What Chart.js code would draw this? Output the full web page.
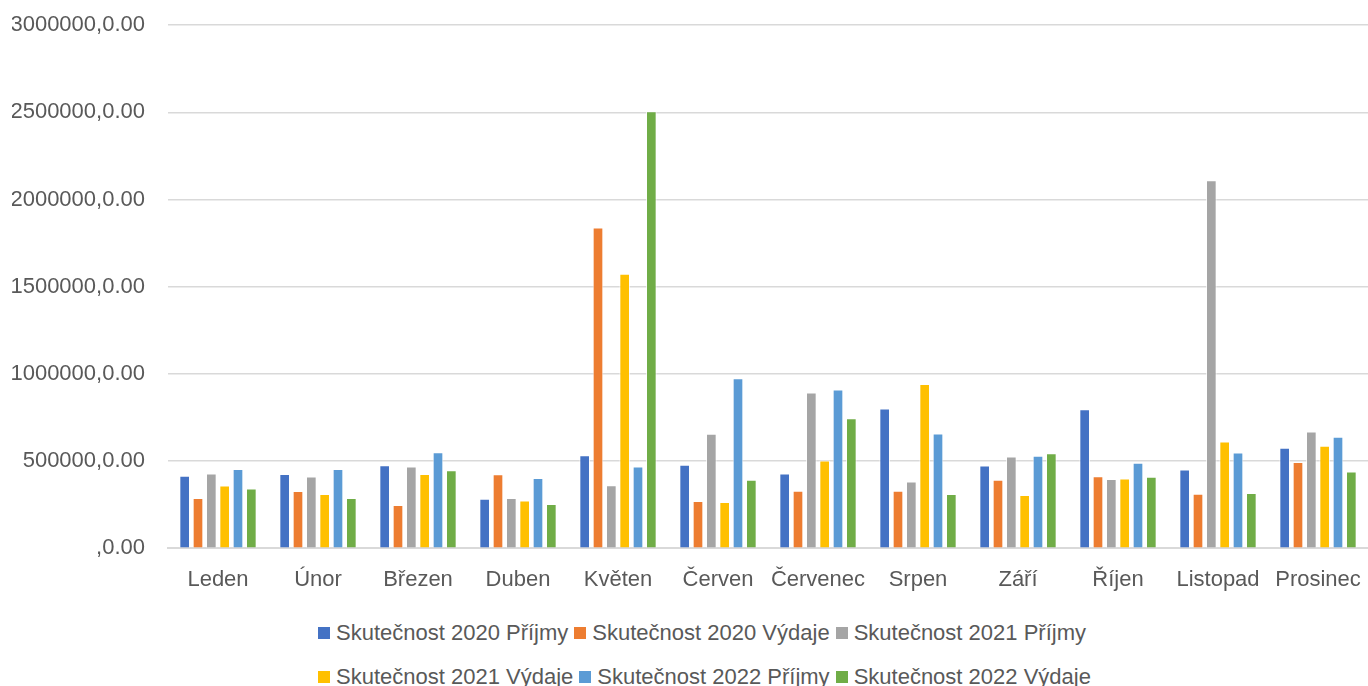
<!DOCTYPE html>
<html>
<head>
<meta charset="utf-8">
<script src="https://cdn.jsdelivr.net/npm/chart.js@4"></script>
<style>
  body { margin: 0; background: #fff; width: 1368px; height: 686px; overflow: hidden; position: relative; font-family: "Liberation Sans", Arial, sans-serif; }
  #wrap { position: absolute; left: 0; top: -11px; width: 1368px; height: 622px; }
  .legendRow { position: absolute; left: 318px; display: flex; align-items: center; font-size: 22px; color: #595959; white-space: nowrap; }
  .legendItem { display: flex; align-items: center; margin-right: 6px; }
  .legendItem span.box { width: 12px; height: 12px; margin-right: 6px; display: inline-block; }
</style>
</head>
<body>
<div id="wrap"><canvas id="barChart"></canvas></div>
<div class="legendRow" id="row1" style="top: 620px;"></div>
<div class="legendRow" id="row2" style="top: 664px;"></div>
<script>
// Měsíční příjmy a výdaje 2020-2022

const labels = ['Leden', 'Únor', 'Březen', 'Duben', 'Květen', 'Červen', 'Červenec', 'Srpen', 'Září', 'Říjen', 'Listopad', 'Prosinec'];

const seriesNames = [
    'Skutečnost 2020 Příjmy',
    'Skutečnost 2020 Výdaje',
    'Skutečnost 2021 Příjmy',
    'Skutečnost 2021 Výdaje',
    'Skutečnost 2022 Příjmy',
    'Skutečnost 2022 Výdaje',
];

const colors = ['#4472C4', '#ED7D31', '#A5A5A5', '#FFC000', '#5B9BD5', '#70AD47'];

const prijmy2020 = [416000, 426000, 476000, 284000, 533000, 478000, 428000, 801000, 474000, 797000, 451000, 576000];
const vydaje2020 = [288000, 328000, 248000, 424000, 1839000, 271000, 330000, 330000, 392000, 412000, 313000, 495000];
const prijmy2021 = [428000, 411000, 468000, 288000, 361000, 657000, 893000, 382000, 526000, 397000, 2110000, 670000];
const vydaje2021 = [359000, 311000, 426000, 274000, 1574000, 265000, 503000, 942000, 305000, 400000, 612000, 588000];
const prijmy2022 = [455000, 455000, 551000, 403000, 468000, 975000, 910000, 658000, 530000, 490000, 549000, 639000];
const vydaje2022 = [342000, 288000, 447000, 253000, 2507000, 392000, 745000, 311000, 545000, 410000, 317000, 440000];

const yTicks = [0, 500000, 1000000, 1500000, 2000000, 2500000, 3000000];

const allValues = [prijmy2020, vydaje2020, prijmy2021, vydaje2021, prijmy2022, vydaje2022];

const data = {
    labels: labels,
    datasets: allValues.map((vals, i) => ({
        label: seriesNames[i],
        data: vals,
        backgroundColor: colors[i],
        borderColor: 'rgba(255,255,255,0.7)',
        borderWidth: 1,
        barPercentage: 0.8,
        categoryPercentage: 0.8,
    }))
};

const config = {
    type: 'bar',
    data: data,
    options: {
        responsive: true,
        maintainAspectRatio: false,
        animation: false,
        layout: { padding: { left: 12, right: 0, top: 5, bottom: 0 } },
        plugins: {
            legend: { display: false },
            tooltip: { enabled: false },
        },
        scales: {
            x: {
                grid: { display: false, drawTicks: false },
                border: { display: true, color: '#D9D9D9', width: 2 },
                ticks: { color: '#595959', font: { family: 'Liberation Sans', size: 22, lineHeight: 2.4 }, padding: 5, maxRotation: 0, autoSkip: false },
            },
            y: {
                min: yTicks[0],
                max: yTicks[yTicks.length - 1],
                afterBuildTicks: (axis) => { axis.ticks = yTicks.map(v => ({ value: v })); },
                afterFit: (axis) => { axis.width = 156; },
                grid: { color: '#D9D9D9', lineWidth: 1.5, drawTicks: false },
                border: { display: false },
                ticks: {
                    color: '#595959',
                    font: { family: 'Liberation Sans', size: 22 },
                    padding: 23,
                    callback: (v) => (v === 0 ? '' : v) + ',0.00',
                },
            },
        },
    },
};

const myBarChart = new Chart(document.getElementById('barChart'), config);

// legenda ve dvou řádcích jako v originále
seriesNames.forEach((name, i) => {
    const row = document.getElementById(i < 3 ? 'row1' : 'row2');
    const item = document.createElement('div');
    item.className = 'legendItem';
    item.innerHTML = '<span class="box" style="background:' + colors[i] + '"></span>' + name;
    row.appendChild(item);
});
</script>
</body>
</html>
